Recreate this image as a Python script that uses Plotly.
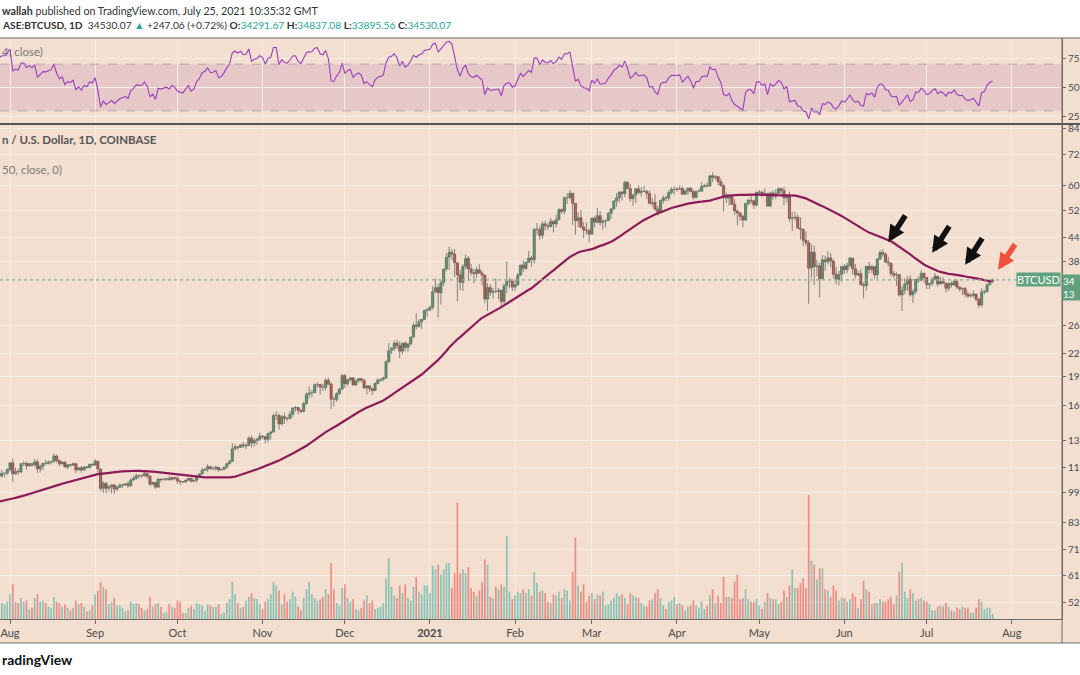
# BTC/USD daily chart with 50-day MA, volume and RSI pane (TradingView style)

import numpy as np
import pandas as pd
import plotly.graph_objects as go

# Daily closes Jun 1 - Jul 27 2020, only used to warm up the MA and RSI
warmup_close = [
    10200, 9520, 9665, 9790, 9620, 9670, 9750, 9780, 9775, 9890, 9280, 9465, 9475, 9385, 9450,
    9525, 9460, 9390, 9300, 9360, 9290, 9685, 9625, 9290, 9245, 9160, 9010, 9115, 9190, 9135,
    9230, 9090, 9060, 9135, 9075, 9345, 9250, 9430, 9235, 9290, 9235, 9305, 9240, 9255, 9195,
    9130, 9155, 9175, 9215, 9165, 9395, 9540, 9610, 9550, 9710, 9935, 11030,
]

# Visible candles, Jul 28 2020 - Jul 25 2021 (one line per month)
close = [
    10935, 11110, 11115, 11350,
    11810, 11070, 11230, 11190, 11750, 11770, 11600, 11755, 11680, 11880, 11400, 11575, 11780, 11770, 11865, 11910, 12295, 11970, 11740, 11865, 11520, 11680, 11650, 11755, 11330, 11470, 11320, 11530, 11475, 11710, 11655,
    11925, 11390, 10170, 10470, 10170, 10260, 10375, 10125, 10225, 10345, 10395, 10445, 10330, 10680, 10785, 10955, 10940, 10935, 11085, 10920, 10420, 10530, 10240, 10740, 10690, 10725, 10775, 10700, 10840, 10780,
    10620, 10570, 10550, 10670, 10790, 10600, 10670, 10925, 11055, 11300, 11380, 11545, 11425, 11430, 11505, 11325, 11370, 11520, 11755, 11915, 12820, 12985, 12935, 13125, 13040, 13075, 13650, 13275, 13460, 13560, 13810,
    13760, 13555, 14030, 14150, 15590, 15590, 14840, 15480, 15330, 15300, 15700, 16290, 16330, 16070, 15960, 16720, 17660, 17800, 17820, 18680, 18700, 18420, 18370, 19160, 18730, 17150, 17140, 17720, 18180, 19700,
    18780, 19220, 19445, 18650, 19150, 19360, 19170, 18320, 18550, 18250, 18035, 18800, 19170, 19275, 19430, 21350, 22800, 23110, 23840, 23480, 22730, 23820, 23240, 23730, 24700, 26490, 26280, 27040, 27370, 28880, 28990,
    29410, 32200, 33000, 31990, 33970, 36820, 39450, 40610, 40200, 38180, 35550, 34030, 37390, 39150, 36830, 36050, 35830, 36640, 35930, 35490, 30850, 33000, 32090, 32280, 32270, 32510, 30410, 33400, 34270, 34320, 33110,
    33520, 35500, 37660, 36950, 38290, 39270, 38870, 46450, 46480, 44840, 47970, 47390, 47200, 48680, 47930, 49150, 52150, 51600, 55900, 55930, 57400, 54090, 48880, 49700, 47060, 46280, 46110, 45140,
    49590, 48430, 50350, 48370, 48760, 48880, 50970, 52370, 54880, 55850, 57800, 57230, 61190, 59000, 55630, 56900, 58910, 57650, 58030, 58100, 57350, 54080, 54340, 52300, 51300, 55050, 55860, 55790, 57630, 58760, 58780,
    58730, 58970, 57060, 58200, 59130, 57990, 56000, 58090, 58090, 59770, 59990, 59850, 63580, 62980, 63250, 61440, 60060, 56250, 55720, 56490, 53800, 51730, 51150, 50110, 49070, 54040, 55070, 54880, 53580, 57750,
    57830, 56620, 57210, 53240, 57520, 56440, 57380, 58930, 58280, 55860, 56750, 49500, 49690, 49930, 46760, 46450, 43540, 42910, 37000, 40620, 37340, 37520, 34770, 38850, 38390, 39290, 38560, 35680, 34620, 35680, 37340,
    36690, 37580, 39240, 36840, 35540, 35800, 33570, 33380, 37390, 36690, 37340, 35550, 39020, 40520, 40160, 38330, 38090, 35820, 35490, 35600, 31600, 32500, 33680, 34660, 31630, 32230, 34650, 34470, 35870, 35040,
    33570, 33800, 34690, 35290, 33700, 34220, 33860, 32870, 33810, 33520, 34260, 33100, 32720, 32820, 31780, 31390, 31530, 31780, 30840, 29790, 32140, 32290, 33590, 34283.01, 34530.07,
]
high = [
    11250, 11340, 11170, 11455,
    11870, 12120, 11480, 11420, 11800, 11915, 11920, 11810, 11810, 12070, 12050, 11680, 11810, 12020, 11980, 11930, 12480, 12400, 12025, 11900, 11890, 11690, 11715, 11820, 11765, 11530, 11590, 11550, 11590, 11720, 11780,
    12090, 11950, 11450, 10620, 10570, 10350, 10400, 10440, 10350, 10490, 10410, 10470, 10575, 10800, 10940, 11080, 11040, 11030, 11180, 11090, 10990, 10580, 10540, 10790, 10760, 10780, 10800, 10950, 10860, 10860,
    10920, 10630, 10600, 10690, 10800, 10800, 10680, 10960, 11110, 11480, 11440, 11730, 11560, 11560, 11630, 11540, 11400, 11530, 11820, 12030, 13240, 13180, 13030, 13170, 13350, 13250, 13800, 13860, 13650, 13680, 14100,
    13900, 13830, 14060, 14260, 15750, 15970, 15770, 15650, 15840, 15470, 15970, 16350, 16490, 16330, 16150, 16880, 17860, 18490, 18120, 18800, 18960, 18700, 18770, 19420, 19480, 18930, 17450, 17870, 18350, 19860,
    19920, 19320, 19570, 19520, 19180, 19420, 19420, 19290, 18640, 18560, 18280, 18950, 19400, 19350, 19570, 21560, 23800, 23280, 24170, 24300, 24100, 23840, 24100, 23800, 24790, 26870, 28400, 27400, 27410, 28990, 29300,
    29680, 33300, 34800, 33650, 34500, 36940, 40400, 41950, 41360, 41400, 38250, 36630, 37850, 40100, 39700, 37950, 36850, 37300, 37850, 36400, 35600, 33850, 33600, 32950, 34880, 32920, 32550, 33800, 38500, 34900, 34370,
    34700, 35970, 37700, 38700, 38300, 40950, 39720, 46790, 48200, 47300, 48650, 48900, 48150, 49700, 49000, 50600, 52600, 52500, 56300, 57500, 58350, 57500, 54200, 51370, 52000, 48450, 48400, 46650,
    49780, 50150, 52650, 51770, 49450, 49200, 51420, 52400, 54900, 57400, 58100, 58100, 61780, 61600, 60600, 56950, 58980, 60100, 59450, 59900, 58550, 58400, 55850, 57200, 53250, 55100, 56600, 56550, 58400, 59400, 59800,
    59500, 60050, 59800, 58500, 59250, 59500, 58680, 58150, 58900, 61200, 60700, 61250, 63750, 64850, 63800, 63550, 62550, 60400, 57600, 57100, 56800, 55450, 52150, 51200, 50600, 54300, 55500, 56450, 55200, 57950,
    58500, 57950, 59000, 57600, 57900, 58350, 58650, 59500, 59300, 59600, 57000, 58000, 51400, 51550, 50700, 49800, 46600, 45850, 43550, 42500, 42200, 38850, 38250, 39950, 39800, 40850, 40400, 38950, 37300, 36450, 37500,
    37900, 38200, 39450, 39250, 37900, 36450, 36800, 34050, 37500, 38400, 37700, 37450, 39300, 41050, 41300, 40500, 39550, 38200, 36450, 36100, 35700, 33300, 34850, 35250, 35480, 32700, 34700, 35280, 36650, 36050,
    35050, 33950, 35000, 35950, 35300, 35100, 35050, 33900, 34050, 34250, 34600, 34650, 33300, 33100, 33150, 32250, 31950, 32450, 31900, 31050, 32850, 32600, 33650, 34500, 34837.08,
]
low = [
    10600, 10830, 10860, 10990,
    11220, 10550, 11000, 11010, 11090, 11580, 11360, 11530, 11520, 11520, 11130, 11160, 11300, 11650, 11700, 11690, 11820, 11820, 11570, 11680, 11510, 11375, 11520, 11590, 11120, 11270, 11140, 11290, 11430, 11450, 11600,
    11600, 11160, 10000, 9900, 9880, 9990, 9880, 9840, 10000, 10200, 10200, 10300, 10200, 10260, 10620, 10690, 10760, 10830, 10890, 10770, 10300, 10360, 10140, 10200, 10550, 10640, 10630, 10640, 10650, 10670,
    10440, 10375, 10510, 10510, 10600, 10530, 10550, 10530, 10830, 11050, 11280, 11180, 11310, 11300, 11270, 11210, 11300, 11340, 11410, 11700, 11900, 12700, 12740, 12890, 12900, 12800, 13050, 12930, 12990, 13130, 13420,
    13600, 13220, 13300, 13540, 14100, 15190, 14350, 14700, 14830, 15090, 15280, 15450, 15950, 15720, 15800, 15880, 16560, 17220, 17350, 17750, 18350, 17630, 18000, 18040, 18600, 16200, 16440, 16880, 17540, 18180,
    18320, 18520, 19000, 18570, 18530, 18860, 18900, 18200, 17650, 17910, 17570, 18000, 18730, 19000, 19050, 19290, 21230, 22350, 22780, 23060, 21810, 22350, 22700, 22700, 23440, 24500, 25850, 26100, 25880, 27320, 27850,
    28700, 29000, 32000, 27700, 29900, 33300, 36300, 36600, 38750, 35100, 30400, 32500, 32400, 36700, 34400, 35400, 33850, 34900, 35900, 33400, 30100, 28800, 31400, 30900, 31900, 30830, 29240, 29900, 31950, 32850, 32300,
    32300, 33430, 35400, 36200, 36580, 38200, 37350, 38000, 45000, 43700, 43980, 46200, 46250, 47050, 45600, 47000, 48950, 50900, 50700, 53900, 55500, 47600, 45000, 47000, 46700, 44100, 45000, 43000,
    45100, 47050, 48120, 47500, 46300, 47050, 48900, 49300, 51850, 53050, 54300, 55050, 56100, 59000, 54600, 53300, 54150, 57000, 56300, 57850, 55500, 53750, 53000, 51750, 50400, 51300, 53950, 54700, 54900, 57050, 56900,
    57950, 58500, 56900, 56900, 56800, 57650, 55400, 55750, 57700, 57900, 59350, 59400, 59800, 61300, 62000, 60000, 59600, 51500, 54200, 53400, 53650, 50500, 47500, 48800, 47000, 48800, 53300, 53900, 52350, 53050,
    57100, 56050, 56500, 53000, 52900, 55250, 55450, 56950, 56250, 53450, 54400, 48600, 46000, 48900, 46600, 43800, 42100, 42250, 30000, 34900, 33500, 35250, 31150, 34500, 36450, 37850, 37200, 34800, 33650, 33400, 34200,
    35700, 35950, 37200, 35650, 34800, 35250, 33450, 31000, 32400, 35800, 35950, 34650, 34800, 38750, 39550, 38150, 37400, 35200, 34800, 33350, 31300, 28800, 31700, 32350, 31300, 30150, 31900, 33900, 34250, 34000,
    32700, 32700, 33350, 34350, 33150, 33550, 33800, 32100, 32300, 33050, 33350, 32700, 32250, 31600, 31150, 31050, 31200, 31100, 30450, 29300, 29500, 31700, 32000, 33400, 33895.56,
]
# Volume, thousand BTC
volume = [
    16, 13, 12, 14,
    20, 28, 14, 13, 17, 14, 15, 8, 9, 17, 20, 14, 15, 13, 10, 9, 18, 14, 13, 10, 12, 9, 7, 9, 15, 12, 13, 10, 6, 7, 11,
    20, 23, 30, 26, 24, 12, 14, 17, 11, 11, 9, 6, 7, 14, 12, 13, 12, 9, 7, 8, 18, 10, 12, 13, 10, 5, 6, 12, 10, 9,
    15, 14, 5, 5, 9, 11, 8, 13, 12, 11, 6, 12, 11, 10, 10, 12, 4, 5, 13, 16, 30, 20, 13, 9, 10, 15, 18, 21, 17, 16, 12,
    8, 14, 16, 20, 30, 27, 23, 12, 20, 14, 16, 22, 18, 10, 7, 17, 24, 30, 20, 17, 15, 16, 18, 24, 20, 45, 24, 13, 11, 25,
    28, 17, 14, 16, 8, 7, 9, 15, 19, 13, 15, 8, 9, 10, 13, 33, 49, 26, 19, 17, 27, 21, 28, 17, 15, 26, 34, 22, 20, 27, 27,
    21, 43, 40, 44, 36, 40, 45, 45, 25, 37, 94, 37, 40, 37, 42, 25, 22, 19, 23, 30, 48, 44, 18, 17, 26, 24, 28, 26, 67, 22, 16,
    19, 22, 21, 24, 21, 24, 19, 38, 29, 22, 23, 21, 14, 13, 20, 19, 22, 17, 24, 23, 15, 38, 66, 27, 22, 28, 14, 19,
    21, 16, 20, 19, 22, 11, 12, 15, 17, 21, 19, 20, 17, 12, 21, 19, 18, 17, 13, 11, 10, 15, 16, 21, 24, 17, 11, 8, 14, 15, 18,
    12, 13, 11, 7, 10, 11, 15, 11, 9, 14, 8, 11, 19, 24, 13, 19, 13, 34, 18, 18, 17, 30, 36, 16, 17, 24, 16, 14, 14, 16,
    11, 8, 14, 21, 17, 16, 16, 12, 14, 23, 18, 27, 40, 25, 25, 29, 33, 25, 100, 47, 44, 32, 41, 41, 24, 23, 18, 27, 23, 15, 17,
    17, 14, 16, 21, 18, 9, 16, 31, 24, 22, 12, 13, 13, 16, 14, 14, 16, 18, 12, 19, 38, 45, 22, 17, 24, 21, 15, 16, 17, 15,
    14, 12, 7, 7, 10, 11, 10, 13, 10, 7, 6, 9, 8, 10, 9, 9, 5, 5, 9, 16, 14, 8, 9, 9, 4,
]

month_ticks = ['2020-08-01', '2020-09-01', '2020-10-01', '2020-11-01', '2020-12-01', '2021-01-01',
               '2021-02-01', '2021-03-01', '2021-04-01', '2021-05-01', '2021-06-01', '2021-07-01', '2021-08-01']
month_labels = ['Aug', 'Sep', 'Oct', 'Nov', 'Dec', '<b>2021</b>', 'Feb', 'Mar', 'Apr', 'May', 'Jun', 'Jul', 'Aug']
# price labels are cut off by the right edge of the screenshot
price_ticks = [84000, 72000, 60000, 52000, 44400, 38500, 26400, 22400, 19600, 16500, 13500, 11500,
               9900, 8300, 7100, 6100, 5200]
price_labels = ['84', '72', '60', '52', '44', '38', '26', '22', '19', '16', '13', '11', '99', '83', '71', '61', '52']
rsi_ticks = [25, 50, 75]
rsi_labels = ['25', '50', '75']

# arrows drawn on the chart: tip date, tip price
black_arrows = [('2021-06-17', 43150), ('2021-07-03', 40460), ('2021-07-15', 37720)]
red_arrow = ('2021-07-27', 36620)

assert len(close) == len(high) == len(low) == len(volume)

dates = pd.date_range('2020-07-28', periods=len(close), freq='D')
opens = [warmup_close[-1]] + close[:-1]

# 50 day simple MA and 14 day RSI (Wilder smoothing)
all_close = pd.Series(warmup_close + close, dtype=float)
ma50 = all_close.rolling(50).mean().iloc[len(warmup_close):].values
delta = all_close.diff()
gain = delta.clip(lower=0).ewm(alpha=1 / 14, adjust=False).mean()
loss = (-delta.clip(upper=0)).ewm(alpha=1 / 14, adjust=False).mean()
rsi = (100 - 100 / (1 + gain / loss)).iloc[len(warmup_close):].values

o = np.array(opens, dtype=float)
c = np.array(close, dtype=float)
up = c >= o

# colours
BG = '#f2dfd0'
GRID = '#f9eee6'
AXIS = '#6a6a6a'
TXT = '#4a4a4a'
FONT = 'Lato'

# pixel helpers (plot area is 1062 x 581, top at 38)
def px(x):
    return x / 1062

def py(y):
    return (619 - y) / 581

fig = go.Figure()

# volume
fig.add_trace(go.Bar(
    x=dates, y=volume, yaxis='y2',
    marker=dict(color=np.where(up, 'rgba(38,166,154,0.5)', 'rgba(239,83,80,0.6)'), line=dict(width=0)),
    width=0.62 * 86400000, hoverinfo='skip'))

# wicks
wx, wy = [], []
for d, h, l in zip(dates, high, low):
    wx += [d, d, None]
    wy += [l, h, None]
fig.add_trace(go.Scatter(x=wx, y=wy, mode='lines', line=dict(color='#808080', width=1), hoverinfo='skip'))

# candle bodies
fig.add_trace(go.Bar(
    x=dates, y=np.abs(c - o), base=np.minimum(o, c),
    marker=dict(color=np.where(up, '#3f9a5f', '#c0402c'),
                line=dict(color=np.where(up, '#24543a', '#6e261c'), width=0.5)),
    width=0.8 * 86400000))

# moving average
fig.add_trace(go.Scatter(x=dates, y=ma50, mode='lines', line=dict(color='#8d1a58', width=2.2)))

# RSI
fig.add_trace(go.Scatter(x=dates, y=rsi, xaxis='x2', yaxis='y3', mode='lines',
                         line=dict(color='#9a3cc0', width=1.1)))

shapes = [
    dict(type='rect', xref='paper', yref='paper', x0=0, x1=px(1080), y0=py(643), y1=1,
         fillcolor=BG, line=dict(width=0), layer='below'),
    dict(type='rect', xref='paper', yref='y3', x0=0, x1=1, y0=30, y1=70,
         fillcolor='rgba(190,110,170,0.2)', line=dict(width=0), layer='below'),
    dict(type='line', xref='paper', yref='y3', x0=0, x1=1, y0=70, y1=70,
         line=dict(color='#b7a3b3', width=1, dash='dash')),
    dict(type='line', xref='paper', yref='y3', x0=0, x1=1, y0=30, y1=30,
         line=dict(color='#b7a3b3', width=1, dash='dash')),
    dict(type='line', xref='paper', yref='y', x0=0, x1=1, y0=close[-1], y1=close[-1],
         line=dict(color='#86b096', width=1.2, dash='dot')),
    # pane borders
    dict(type='line', xref='paper', yref='paper', x0=0, x1=px(1080), y0=1, y1=1,
         line=dict(color=AXIS, width=1)),
    dict(type='line', xref='paper', yref='paper', x0=0, x1=px(1080), y0=py(124), y1=py(124),
         line=dict(color='#555555', width=2)),
    dict(type='line', xref='paper', yref='paper', x0=0, x1=px(1080), y0=py(643), y1=py(643),
         line=dict(color=AXIS, width=1)),
    dict(type='line', xref='paper', yref='paper', x0=1, x1=1, y0=py(643), y1=1,
         line=dict(color=AXIS, width=1)),
]

green = '#26a69a'
header2 = ('<b>ASE:BTCUSD, 1D</b>  34530.07 <span style="color:%s">▲</span> +247.06 (+0.72%%) '
           '<b>O:</b><span style="color:%s">34291.67</span> <b>H:</b><span style="color:%s">%.2f</span> '
           '<b>L:</b><span style="color:%s">%.2f</span> <b>C:</b><span style="color:%s">%.2f</span>'
           % (green, green, green, high[-1], green, low[-1], green, close[-1]))

annotations = [
    dict(text='<b>wallah</b> published on TradingView.com, July 25, 2021 10:35:32 GMT',
         x=0, y=py(10), font=dict(size=10.7, color='#333333')),
    dict(text=header2, x=0, y=py(25), font=dict(size=10.2, color='#333333')),
    dict(text='4, close)', x=0, y=py(52), font=dict(size=11.5, color='#7a7a7a')),
    dict(text='<b>n / U.S. Dollar, 1D, COINBASE</b>', x=0, y=py(139), font=dict(size=11.5, color='#555555')),
    dict(text='50, close, 0)', x=0, y=py(169), font=dict(size=11.5, color='#7a7a7a')),
    dict(text='<b>radingView</b>', x=0, y=py(659), font=dict(size=14, color='#111111')),
]
for a in annotations:
    a.update(xref='paper', yref='paper', xanchor='left', yanchor='middle', showarrow=False)
    a['font']['family'] = FONT

annotations += [
    dict(text='BTCUSD', xref='paper', yref='y', x=1, y=np.log10(close[-1]), xanchor='right', xshift=-1,
         yanchor='middle', showarrow=False, bgcolor='#5fa27d', borderpad=0,
         font=dict(family=FONT, size=11, color='white')),
    dict(text='34<br>13', xref='paper', yref='y', x=1, y=np.log10(close[-1]), xanchor='left',
         yanchor='top', yshift=6, showarrow=False, bgcolor='#5fa27d', borderpad=0, align='left',
         width=17, font=dict(family=FONT, size=10, color='white')),
]
for d, p in black_arrows:
    annotations.append(dict(x=d, y=np.log10(p), xref='x', yref='y', text='', showarrow=True,
                            ax=18, ay=-28, arrowhead=2, arrowsize=0.6, arrowwidth=5.5,
                            arrowcolor='#111111'))
annotations.append(dict(x=red_arrow[0], y=np.log10(red_arrow[1]), xref='x', yref='y', text='',
                        showarrow=True, ax=18, ay=-27, arrowhead=2, arrowsize=0.6, arrowwidth=5.5,
                        arrowcolor='#f0503c'))

tickfont = dict(family=FONT, size=10, color=TXT)

fig.update_layout(
    width=1080, height=675,
    margin=dict(l=0, r=18, t=38, b=56),
    paper_bgcolor='white', plot_bgcolor=BG,
    showlegend=False, barmode='overlay', hovermode=False,
    xaxis=dict(type='date', range=['2020-07-28 08:30', '2021-08-19 07:00'], domain=[0, 1], anchor='y',
               tickvals=month_ticks, ticktext=month_labels, ticks='outside', ticklen=4, tickcolor=AXIS,
               showline=True, linecolor=AXIS, showgrid=True, gridcolor=GRID, zeroline=False,
               tickfont=dict(family=FONT, size=11, color=TXT), rangeslider=dict(visible=False)),
    xaxis2=dict(matches='x', anchor='y3', tickvals=month_ticks, showticklabels=False, ticks='',
                showgrid=True, gridcolor=GRID, showline=False, zeroline=False),
    yaxis=dict(type='log', range=[np.log10(4726), np.log10(86145)], domain=[0, py(124)], anchor='x',
               side='right', tickvals=price_ticks, ticktext=price_labels, ticks='outside', ticklen=3,
               tickcolor=AXIS, showline=True, linecolor=AXIS, showgrid=True, gridcolor=GRID,
               zeroline=False, tickfont=tickfont),
    yaxis2=dict(overlaying='y', range=[0, 400], visible=False),
    yaxis3=dict(domain=[py(124), 1], anchor='x2', range=[18.75, 92.4], side='right',
                tickvals=rsi_ticks, ticktext=rsi_labels, ticks='outside', ticklen=3, tickcolor=AXIS,
                showline=True, linecolor=AXIS, showgrid=True, gridcolor=GRID, zeroline=False,
                tickfont=tickfont),
    shapes=shapes,
    annotations=annotations,
)

# the page's default body margin would shift the chart by 8px
fig.write_html('out.html', config={'displayModeBar': False},
               post_script="document.body.style.margin='0px';")
